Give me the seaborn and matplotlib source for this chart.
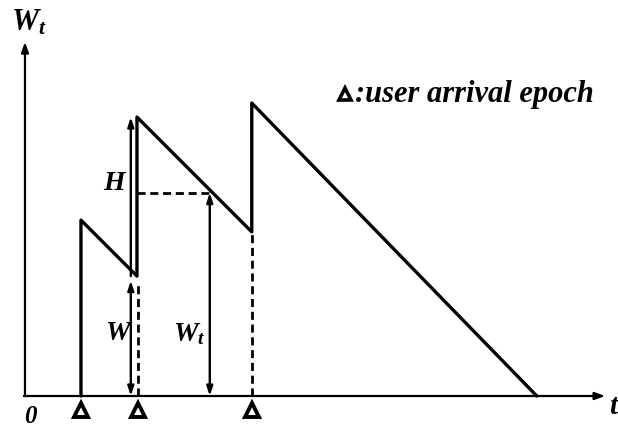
import matplotlib
matplotlib.use("Agg")
import matplotlib.pyplot as plt
import seaborn as sns
import pandas as pd

# Workload process vertices (time, workload)
t_points = [1.0, 1.0, 2.0, 2.0, 4.05, 4.05, 9.14]
w_points = [0.0, 3.14, 2.14, 4.98, 2.93, 5.23, 0.0]

# user arrival epochs
arrivals = [1.0, 2.02, 4.05]

# quantities marked on the chart
t_obs = 3.30          # observation instant
w_obs = 3.63          # W_t at that instant
t_arrow = 1.89        # where W and H are shown
w_before = 2.14       # W: workload seen by arriving user
w_after = 4.98        # workload right after the arrival (W + H)

sns.set_style("white")
plt.rcParams["mathtext.fontset"] = "custom"
plt.rcParams["mathtext.it"] = "Liberation Serif:italic:bold"
plt.rcParams["mathtext.rm"] = "Liberation Serif:bold"

fig = plt.figure(figsize=(6.18, 4.30), dpi=100)
ax = fig.add_axes([0, 0, 1, 1])
ax.set_xlim(-0.446, 10.59)
ax.set_ylim(-0.607, 7.07)
ax.axis("off")

df = pd.DataFrame({"t": t_points, "w": w_points})
sns.lineplot(data=df, x="t", y="w", sort=False, estimator=None,
             color="black", linewidth=2.4, ax=ax)

# axes with arrow heads
arrow_kw = dict(arrowstyle="-|>,head_length=0.6,head_width=0.22", color="black",
                lw=1.6, shrinkA=0, shrinkB=0)
ax.annotate("", xy=(0, 6.32), xytext=(0, 0), arrowprops=arrow_kw)
ax.annotate("", xy=(10.36, 0), xytext=(-0.02, 0), arrowprops=arrow_kw)

# dashed guides
dash = (0, (2.9, 1.7))
ax.plot([2.02, 2.02], [0, w_before - 0.1], ls=dash, color="black", lw=2.0)
ax.plot([4.05, 4.05], [0, 2.93], ls=dash, color="black", lw=2.0)
ax.plot([2.0, t_obs], [w_obs, w_obs], ls=dash, color="black", lw=2.0)

# double-headed arrows for W and W_t, single for H
dbl = dict(arrowstyle="<|-|>,head_length=0.55,head_width=0.18", color="black",
           lw=1.7, shrinkA=0, shrinkB=0)
ax.annotate("", xy=(t_arrow, w_before - 0.08), xytext=(t_arrow, 0), arrowprops=dbl)
ax.annotate("", xy=(t_obs, w_obs), xytext=(t_obs, 0), arrowprops=dbl)
ax.annotate("", xy=(t_arrow, w_after), xytext=(t_arrow, w_before),
            arrowprops=dict(arrowstyle="-|>,head_length=0.55,head_width=0.18",
                            color="black", lw=1.7, shrinkA=0, shrinkB=0))

# arrival markers
ax.plot(arrivals, [-0.25] * len(arrivals), ls="none", marker="^", markersize=10,
        markerfacecolor="white", markeredgecolor="black", markeredgewidth=2.8)
ax.plot([5.72], [5.39], ls="none", marker="^", markersize=9,
        markerfacecolor="white", markeredgecolor="black", markeredgewidth=2.6)

txt = dict(color="black", fontfamily="Liberation Serif", fontstyle="italic",
           fontweight="bold")
ax.text(5.90, 5.39, ":user arrival epoch", fontsize=22, ha="left", va="center", **txt)
ax.text(0.06, 6.68, r"$W_t$", fontsize=22, ha="center", va="center", color="black")
ax.text(1.62, 3.82, r"$H$", fontsize=20, ha="center", va="center", color="black")
ax.text(1.68, 1.15, r"$W$", fontsize=20, ha="center", va="center", color="black")
ax.text(2.93, 1.12, r"$W_t$", fontsize=20, ha="center", va="center", color="black")
ax.text(0.10, -0.36, "0", fontsize=18, ha="center", va="center", **txt)
ax.text(10.52, -0.17, r"$t$", fontsize=21, ha="center", va="center", color="black")

fig.savefig("out.png", dpi=100, facecolor="white")
